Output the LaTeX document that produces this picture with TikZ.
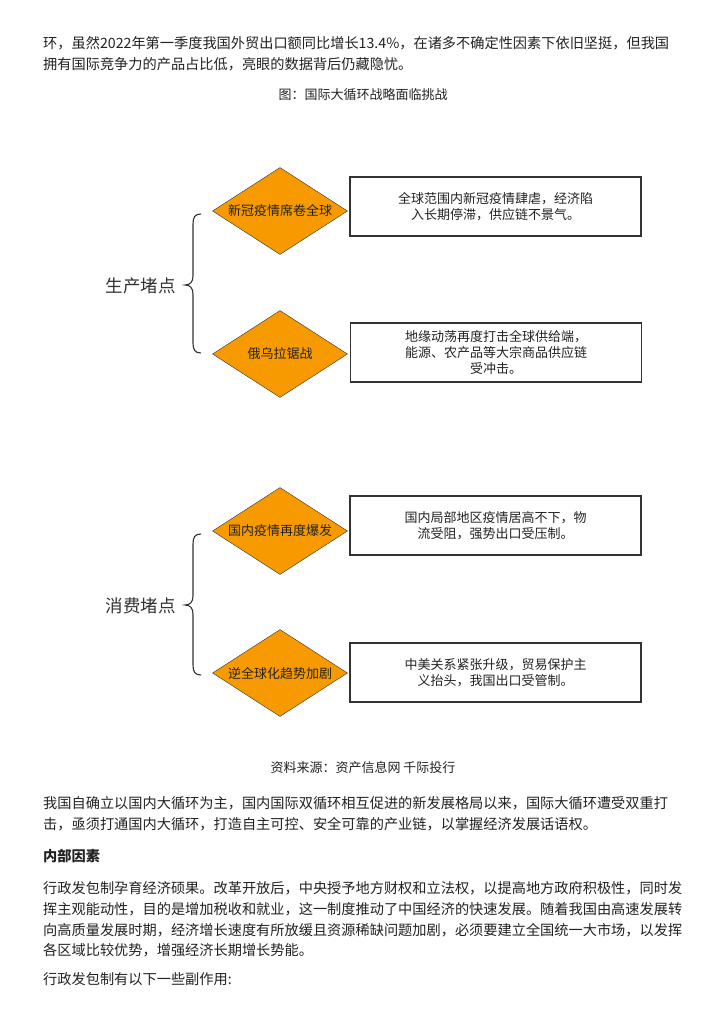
\documentclass[tikz,border=0pt]{standalone}
\usepackage{fontspec}
\setmainfont{Noto Sans CJK SC}
\usetikzlibrary{shapes.geometric}
\definecolor{orangefill}{RGB}{247,154,0}
\definecolor{txt}{RGB}{34,34,34}
\definecolor{edge}{RGB}{51,51,51}

\tikzset{
  bodyline/.style={anchor=west,inner sep=0pt,text height=0.76em,text depth=0pt,font=\fontsize{14.2}{20}\selectfont,text=txt},
  caption/.style={inner sep=0pt,text height=0.76em,text depth=0pt,font=\fontsize{13}{16}\selectfont,text=txt},
  issue/.style={diamond,draw=edge,fill=orangefill,aspect=1.55,inner sep=0pt,minimum width=135pt,minimum height=87pt,font=\fontsize{13}{16}\selectfont,text=txt},
  effect/.style={draw=edge,line width=1.5pt,minimum width=291pt,minimum height=59pt,align=center,font=\fontsize{13}{16}\selectfont,text=txt},
  pointlabel/.style={anchor=east,inner sep=0pt,font=\fontsize{17.5}{20}\selectfont,text=edge},
  brace/.style={draw=edge,line width=1.1pt}
}

\begin{document}
\begin{tikzpicture}[x=1pt,y=-1pt]
	\useasboundingbox[fill=white] (0,0) rectangle (724,1024);

	% text above the figure
	\node (l1) at (43,45) [bodyline]{环，虽然2022年第一季度我国外贸出口额同比增长13.4\%，在诸多不确定性因素下依旧坚挺，但我国};
	\node (l2) at (43,66) [bodyline]{拥有国际竞争力的产品占比低，亮眼的数据背后仍藏隐忧。};
	\node (title) at (363,96) [caption]{图：国际大循环战略面临挑战};

	% production side
	\node (d1) at (280,211) [issue]{新冠疫情席卷全球};
	\node (b1) at (495.5,206.5) [effect]{全球范围内新冠疫情肆虐，经济陷\\入长期停滞，供应链不景气。};
	\node (d2) at (280,354) [issue]{俄乌拉锯战};
	\node (b2) at (496,352.5) [effect]{地缘动荡再度打击全球供给端，\\能源、农产品等大宗商品供应链\\受冲击。};
	\node (p) at (176,286) [pointlabel]{生产堵点};
	\draw[brace] (201,214) .. controls (195,214) and (193,217) .. (193,224) -- (193,276) .. controls (193,282) and (190,285) .. (185,285) .. controls (190,285) and (193,288) .. (193,294) -- (193,343) .. controls (193,350) and (195,353) .. (201,353);

	% consumption side
	\node (d3) at (280,531) [issue]{国内疫情再度爆发};
	\node (b3) at (495.5,525.5) [effect]{国内局部地区疫情居高不下，物\\流受阻，强势出口受压制。};
	\node (d4) at (280,673) [issue]{逆全球化趋势加剧};
	\node (b4) at (495.5,672.5) [effect]{中美关系紧张升级，贸易保护主\\义抬头，我国出口受管制。};
	\node (c) at (176,606) [pointlabel]{消费堵点};
	\draw[brace] (201,534) .. controls (195,534) and (193,537) .. (193,544) -- (193,596) .. controls (193,602) and (190,605) .. (185,605) .. controls (190,605) and (193,608) .. (193,614) -- (193,665) .. controls (193,672) and (195,675) .. (201,675);

	\node (src) at (363,769) [caption]{资料来源：资产信息网 千际投行};

	% text below the figure
	\node (p1a) at (43,805) [bodyline]{我国自确立以国内大循环为主，国内国际双循环相互促进的新发展格局以来，国际大循环遭受双重打};
	\node (p1b) at (43,826) [bodyline]{击，亟须打通国内大循环，打造自主可控、安全可靠的产业链，以掌握经济发展话语权。};
	\node (head) at (43,858) [bodyline]{\bfseries 内部因素};
	\node (p2a) at (43,890) [bodyline]{行政发包制孕育经济硕果。改革开放后，中央授予地方财权和立法权，以提高地方政府积极性，同时发};
	\node (p2b) at (43,911) [bodyline]{挥主观能动性，目的是增加税收和就业，这一制度推动了中国经济的快速发展。随着我国由高速发展转};
	\node (p2c) at (43,932) [bodyline]{向高质量发展时期，经济增长速度有所放缓且资源稀缺问题加剧，必须要建立全国统一大市场，以发挥};
	\node (p2d) at (43,952) [bodyline]{各区域比较优势，增强经济长期增长势能。};
	\node (p3) at (43,981) [bodyline]{行政发包制有以下一些副作用:};
\end{tikzpicture}
\end{document}
